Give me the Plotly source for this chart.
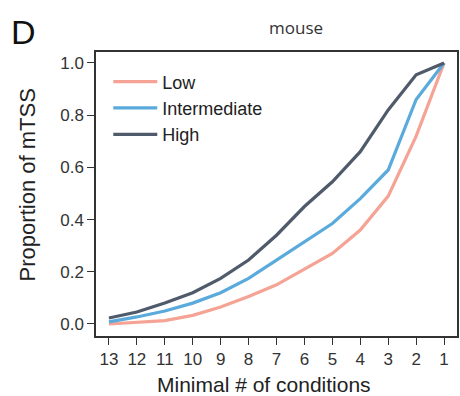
import plotly.graph_objects as go

conditions = [13, 12, 11, 10, 9, 8, 7, 6, 5, 4, 3, 2, 1]
low = [0.0, 0.005, 0.013, 0.033, 0.065, 0.105, 0.15, 0.21, 0.27, 0.36, 0.49, 0.72, 1.0]
intermediate = [0.008, 0.027, 0.05, 0.08, 0.12, 0.175, 0.245, 0.315, 0.385, 0.48, 0.59, 0.86, 1.0]
high = [0.023, 0.046, 0.08, 0.12, 0.175, 0.245, 0.34, 0.45, 0.545, 0.66, 0.82, 0.955, 1.0]

series = [("Low", low, "#f4a394"), ("Intermediate", intermediate, "#5aaadb"), ("High", high, "#4f5a6b")]

fig = go.Figure()
for name, vals, color in series:
    fig.add_trace(go.Scatter(x=conditions, y=vals, mode="lines", name=name,
                             line=dict(color=color, width=3.2)))

font_family = "Liberation Sans, Arial, sans-serif"
W, H = 460, 396
L, R, T, B = 96, 1, 52, 60
pw, ph = W - L - R, H - T - B

fig.update_layout(
    width=W, height=H,
    margin=dict(l=L, r=R, t=T, b=B),
    paper_bgcolor="white", plot_bgcolor="white",
    font=dict(family=font_family, color="#222", size=16),
    showlegend=True,
    legend=dict(x=0.034, y=0.96, xanchor="left", yanchor="top",
                font=dict(size=18, color="#222"), bgcolor="rgba(0,0,0,0)",
                itemwidth=44, tracegroupgap=0),
    xaxis=dict(range=[13.463, 0.537], tickmode="array", tickvals=conditions,
               ticktext=[str(c) for c in conditions],
               showgrid=False, zeroline=False, showline=True, linecolor="#333", linewidth=1.5,
               mirror=True, ticks="outside", ticklen=7, tickwidth=1.3, tickcolor="#333",
               tickfont=dict(size=17, color="#333")),
    yaxis=dict(range=[-0.046, 1.042], tickmode="array", tickvals=[0, 0.2, 0.4, 0.6, 0.8, 1.0],
               ticktext=["0.0", "0.2", "0.4", "0.6", "0.8", "1.0"],
               showgrid=False, zeroline=False, showline=True, linecolor="#333", linewidth=1.5,
               mirror=True, ticks="outside", ticklen=7, tickwidth=1.3, tickcolor="#333",
               tickfont=dict(size=17, color="#333")),
)

fig.add_annotation(text="D", xref="paper", yref="paper", x=(9 - L) / pw, y=1 + (T - 11) / ph,
                   xanchor="left", yanchor="top", showarrow=False,
                   font=dict(size=34, color="#111", family=font_family))
fig.add_annotation(text="mouse", xref="paper", yref="paper", x=(297 - L) / pw, y=1 + (T - 27) / ph,
                   xanchor="center", yanchor="middle", showarrow=False,
                   font=dict(size=17, color="#333", family="Open Sans, sans-serif"))
fig.add_annotation(text="Minimal # of conditions", xref="paper", yref="paper",
                   x=(265 - L) / pw, y=-(385 - (H - B)) / ph,
                   xanchor="center", yanchor="middle", showarrow=False,
                   font=dict(size=21, color="#222", family=font_family))
fig.add_annotation(text="Proportion of mTSS", xref="paper", yref="paper", textangle=-90,
                   x=(27 - L) / pw, y=((H - B) - 185) / ph,
                   xanchor="center", yanchor="middle", showarrow=False,
                   font=dict(size=22, color="#222", family=font_family))

fig.write_html("out.html")
